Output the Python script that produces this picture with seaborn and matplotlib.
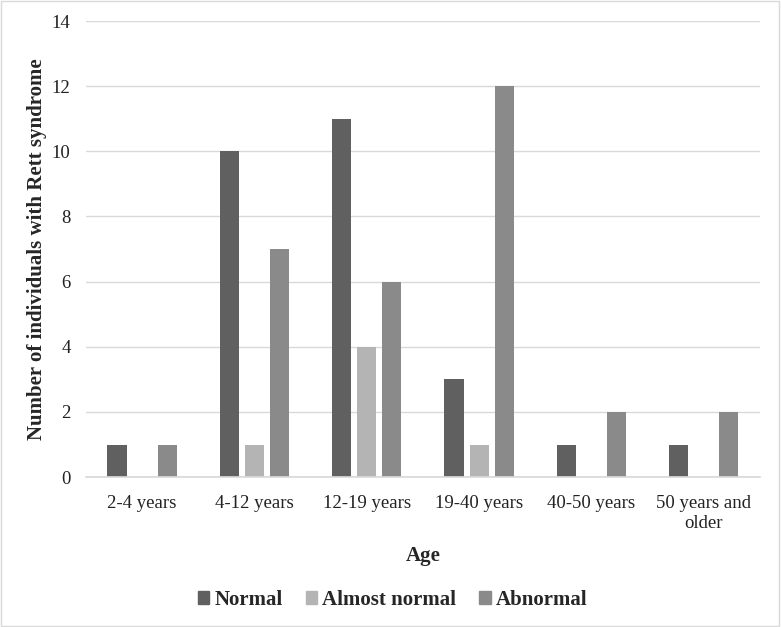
import matplotlib
matplotlib.use("Agg")
import matplotlib.pyplot as plt
import seaborn as sns
import pandas as pd
from matplotlib.patches import Rectangle

# data
ages = ["2-4 years", "4-12 years", "12-19 years", "19-40 years", "40-50 years", "50 years and\nolder"]
normal = [1, 10, 11, 3, 1, 1]
almost_normal = [0, 1, 4, 1, 0, 0]
abnormal = [1, 7, 6, 12, 2, 2]
series = ["Normal", "Almost normal", "Abnormal"]
colors = ["#606060", "#b4b4b4", "#8a8a8a"]

rows = []
for name, vals in zip(series, [normal, almost_normal, abnormal]):
    for a, v in zip(ages, vals):
        rows.append({"Age": a, "Status": name, "Count": v})
df = pd.DataFrame(rows)

sns.set_theme(style="white")
plt.rcParams['font.family'] = ['Liberation Serif', 'DejaVu Serif']

fig = plt.figure(figsize=(7.81, 6.27), dpi=100)
ax = fig.add_axes([0.110, 0.239, 0.863, 0.7275])

sns.barplot(data=df, x="Age", y="Count", hue="Status", hue_order=series,
            palette=colors, width=0.67, gap=0.24, saturation=1, ax=ax,
            legend=False, linewidth=0)

ax.set_ylim(0, 14)
ax.set_yticks(range(0, 15, 2))
ax.yaxis.grid(True, color="#d9d9d9", linewidth=1)
ax.set_axisbelow(True)
for s in ["top", "right", "left"]:
    ax.spines[s].set_visible(False)
ax.spines["bottom"].set_color("#d9d9d9")
ax.tick_params(axis="both", length=0, labelsize=13.5, colors="#222222")
ax.tick_params(axis="y", pad=11)
ax.tick_params(axis="x", pad=13)
ax.set_xlabel("Age", fontsize=15, fontweight="bold", labelpad=10)
ax.set_ylabel("Number of individuals with Rett syndrome", fontsize=15,
              fontweight="bold")
ax.yaxis.set_label_coords(-0.057, 0.5)

handles = [Rectangle((0, 0), 1, 1, color=c) for c in colors]
fig.legend(handles, series, loc="center", bbox_to_anchor=(0.503, 0.043), ncol=3,
           frameon=False, prop={"weight": "bold", "size": 15},
           handlelength=0.55, handleheight=0.55, handletextpad=0.25, columnspacing=1.1)

fig.add_artist(Rectangle((0.001, 0.002), 0.997, 0.996, transform=fig.transFigure,
                         fill=False, edgecolor="#d9d9d9", linewidth=1))

fig.savefig("out.png", dpi=100)
